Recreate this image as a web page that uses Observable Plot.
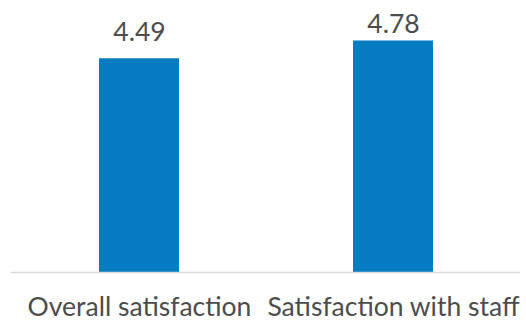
<!DOCTYPE html>
<html>
<head>
<meta charset="utf-8">
<script src="https://cdn.jsdelivr.net/npm/d3@7"></script>
<script src="https://cdn.jsdelivr.net/npm/@observablehq/plot@0.6"></script>
<style>
  html, body { margin: 0; padding: 0; background: #fff; }
  #chart svg { display: block; }
</style>
</head>
<body>
<div id="chart"></div>
<script>
const categories = ["Overall satisfaction", "Satisfaction with staff"];
const values = [4.49, 4.78];
const valueLabels = ["4.49", "4.78"];

const data = categories.map((c, i) => ({cat: c, value: values[i], label: valueLabels[i]}));

const chart = Plot.plot({
  width: 526,
  height: 324,
  marginLeft: 11,
  marginRight: 6,
  marginTop: 27,
  marginBottom: 52,
  style: {fontFamily: "Lato, sans-serif", background: "#fff"},
  x: {domain: categories, padding: 0, label: null},
  y: {domain: [1, 5], axis: null},
  marks: [
    Plot.barY(data, {x: "cat", y1: 1, y2: "value", fill: "#067CC3", insetLeft: 87, insetRight: 87}),
    Plot.ruleY([1], {stroke: "#d9d9d9", strokeWidth: 1.5}),
    Plot.text(data.filter(d => d.cat === categories[0]), {x: "cat", y: "value", text: "label", dy: -18, lineAnchor: "bottom", fontSize: 26.5, fill: "#4d4d4d"}),
    Plot.text(data.filter(d => d.cat === categories[1]), {x: "cat", y: "value", text: "label", dy: -8, lineAnchor: "bottom", fontSize: 26.5, fill: "#4d4d4d"}),
    Plot.axisX({tickSize: 0, tickPadding: 25, fontSize: 26.5, color: "#4d4d4d", label: null})
  ]
});
document.getElementById("chart").appendChild(chart);
</script>
</body>
</html>
